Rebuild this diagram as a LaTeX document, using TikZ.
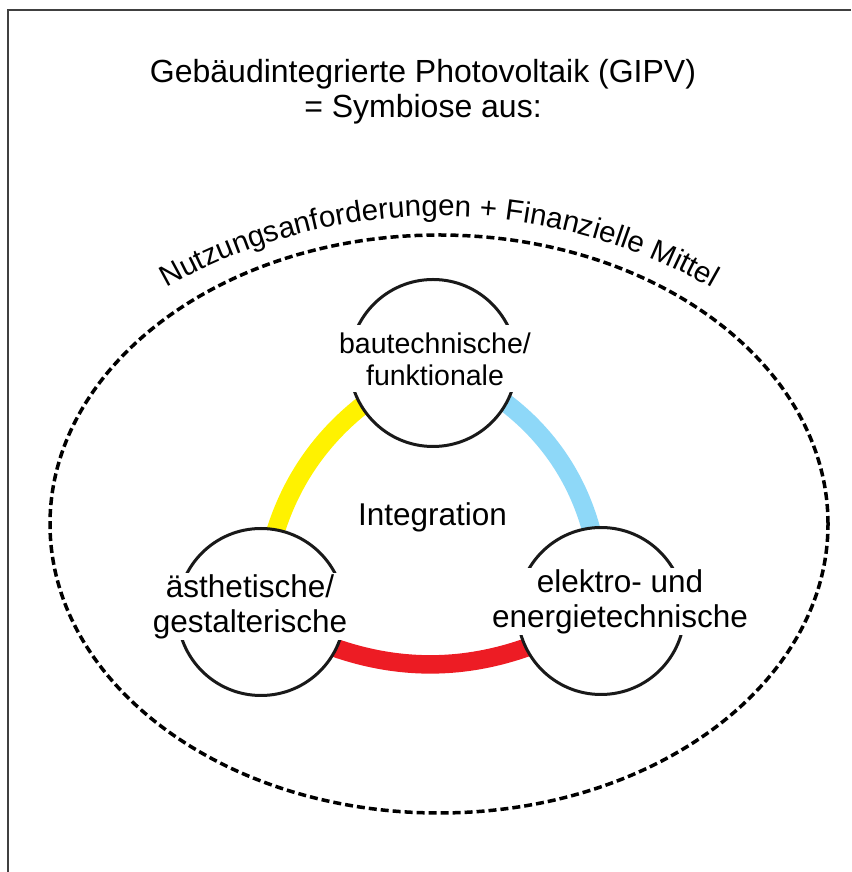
\documentclass[tikz,border=0pt]{standalone}
\usepackage{fontspec}
\setmainfont{Liberation Sans}
\usepackage{tikz}
\usetikzlibrary{decorations.text,backgrounds}
\definecolor{gipvyellow}{HTML}{FFF200}
\definecolor{gipvred}{HTML}{ED1C24}
\definecolor{gipvblue}{HTML}{8ED8F8}

\begin{document}
\begin{tikzpicture}[x=1pt, y=1pt, line width=3pt,
    ring/.style={circle, draw=black!90, fill=white, minimum size=167pt, inner sep=0pt},
    lbl/.style={fill=white, align=center, inner xsep=2pt, inner ysep=0pt,
      minimum height=67pt, font=\fontsize{31.5}{35}\selectfont},
    band/.style={line width=18.5pt}]

  \useasboundingbox (0,0) rectangle (851,872);

  % only the top and left edge of the frame are in the picture
  \draw[black!75, line width=1.4pt] (8,0) -- (8,862) -- (851,862);

  \node[align=center, font=\fontsize{32}{35}\selectfont] (title) at (423,780)
    {Gebäudintegrierte Photovoltaik (GIPV)\\= Symbiose aus:};

  \draw[line width=3.5pt, dash pattern=on 8pt off 4pt] (439,348) ellipse [x radius=389, y radius=289];
  % the caption sits on a flatter circle than the ellipse itself
  \path[decorate, decoration={text along path, text align=center,
      text={|\fontsize{29.5}{30}\selectfont|Nutzungsanforderungen + Finanzielle Mittel}}]
    (439,104) ++(150:552) arc[start angle=150, end angle=30, radius=552];

  \node[ring] (bau) at (433,509) {};
  \node[ring] (aes) at (261,260) {};
  \node[ring] (ele) at (601,261) {};

  % bands run centre to centre, the white rings hide their ends
  \begin{scope}[on background layer]
    \foreach \a/\b/\col/\bend in {bau/aes/gipvyellow/31, aes/ele/gipvred/32, ele/bau/gipvblue/35}
      \draw[band, \col] (\a.center) to[bend right=\bend] (\b.center);
  \end{scope}

  \node[lbl, font=\fontsize{28.5}{32}\selectfont] (bautxt) at (435,513) {bautechnische/\\funktionale};
  \node[lbl] (aestxt) at (250,265.5) {ästhetische/\\gestalterische};
  \node[lbl] (eletxt) at (620,270) {elektro- und\\energietechnische};

  \node[font=\fontsize{31.5}{35}\selectfont] (integ) at (432.5,355) {Integration};

\end{tikzpicture}
\end{document}
